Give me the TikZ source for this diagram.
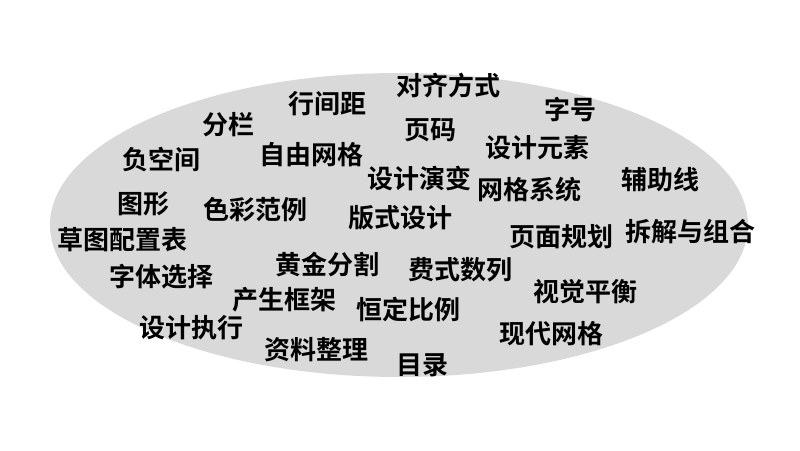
\documentclass[tikz,border=0pt]{standalone}
\usepackage{fontspec}
\newfontfamily\cjk{Noto Sans CJK SC}[BoldFont={* Bold}]
\definecolor{ellgray}{RGB}{217,217,217}
\tikzset{word/.style={font=\cjk\bfseries\fontsize{26}{26}\selectfont, text=black, inner sep=0pt, anchor=center}}
\begin{document}
\begin{tikzpicture}[x=1pt,y=-1pt]
\useasboundingbox (0,0) rectangle (800,450);
\fill[white] (0,0) rectangle (800,450);
\fill[ellgray] (399,225) ellipse [x radius=349, y radius=152];
\node[word] (w1) at (448,86) {对齐方式};
\node[word] (w2) at (327,104) {行间距};
\node[word] (w3) at (570,110) {字号};
\node[word] (w4) at (228,125) {分栏};
\node[word] (w5) at (430,130) {页码};
\node[word] (w6) at (161,160) {负空间};
\node[word] (w7) at (311,155) {自由网格};
\node[word] (w8) at (537,148) {设计元素};
\node[word] (w9) at (419,178) {设计演变};
\node[word] (w10) at (529,190) {网格系统};
\node[word] (w11) at (660,180) {辅助线};
\node[word] (w12) at (143,204) {图形};
\node[word] (w13) at (255,210) {色彩范例};
\node[word] (w14) at (400,218) {版式设计};
\node[word] (w15) at (122,240) {草图配置表};
\node[word] (w16) at (561,237) {页面规划};
\node[word] (w17) at (690,232) {拆解与组合};
\node[word] (w18) at (161,277) {字体选择};
\node[word] (w19) at (327,264) {黄金分割};
\node[word] (w20) at (460,270) {费式数列};
\node[word] (w21) at (585,292) {视觉平衡};
\node[word] (w22) at (284,300) {产生框架};
\node[word] (w23) at (408,309) {恒定比例};
\node[word] (w24) at (191,328) {设计执行};
\node[word] (w25) at (551,334) {现代网格};
\node[word] (w26) at (316,350) {资料整理};
\node[word] (w27) at (422,365) {目录};
\end{tikzpicture}
\end{document}
